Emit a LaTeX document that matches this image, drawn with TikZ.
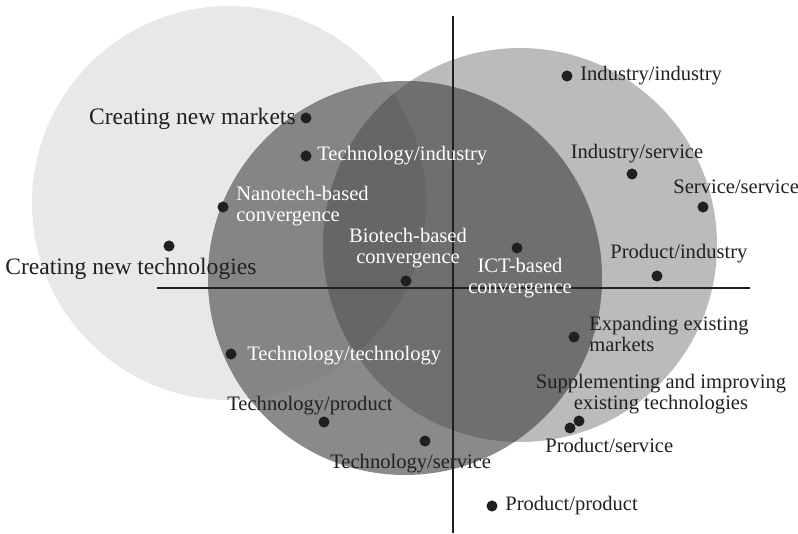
\documentclass[tikz,border=0pt]{standalone}
\usepackage{fontspec}
\setmainfont{Liberation Serif}
\definecolor{ink}{HTML}{231F20}
\definecolor{techfill}{HTML}{E8E8E8}
\definecolor{marketfill}{HTML}{BBBBBB}
\definecolor{convfill}{HTML}{8A8A8A}
\definecolor{convtech}{HTML}{858585}
\definecolor{convmarket}{HTML}{6F6F6F}
\definecolor{convall}{HTML}{666666}
\tikzset{
    spot/.style={circle, fill=ink, inner sep=0pt, minimum size=6.3pt},
    darktxt/.style={inner sep=0pt, text=ink, font=\fontsize{11.7}{11.9}\selectfont},
    lighttxt/.style={darktxt, text=white},
    bigtxt/.style={darktxt, font=\fontsize{13.4}{14}\selectfont}
}
\begin{document}
\begin{tikzpicture}[x=0.02cm, y=-0.02cm]
    \useasboundingbox (0,0) rectangle (798,534);
    % Circles
    \fill[techfill] (229,203) circle[radius=197];
    \fill[marketfill] (520,245) circle[radius=197];
    \fill[convfill] (405,278) circle[radius=197];
    % Overlaps inside the convergence circle
    \begin{scope}
        \clip (405,278) circle[radius=197];
        \fill[convtech] (229,203) circle[radius=197];
        \fill[convmarket] (520,245) circle[radius=197];
        \clip (229,203) circle[radius=197];
        \fill[convall] (520,245) circle[radius=197];
    \end{scope}
    % Axes
    \draw[ink, line width=0.6pt] (453,16) -- (453,533);
    \draw[ink, line width=0.6pt] (157,288) -- (750,288);
    % Points
    \node[spot] (mkt) at (306,118) {};
    \node[spot] (newtech) at (169,246) {};
    \node[spot] (techind) at (306,156) {};
    \node[spot] (nano) at (223,207) {};
    \node[spot] (bio) at (406,281) {};
    \node[spot] (ict) at (517,248) {};
    \node[spot] (indind) at (567,76) {};
    \node[spot] (indsvc) at (632,174) {};
    \node[spot] (svcsvc) at (703,207) {};
    \node[spot] (prodind) at (657,276) {};
    \node[spot] (expand) at (574,337) {};
    \node[spot] (supp) at (579,421) {};
    \node[spot] (prodsvc) at (570,428) {};
    \node[spot] (techsvc) at (425,441) {};
    \node[spot] (prodprod) at (492,506) {};
    \node[spot] (techtech) at (231,354) {};
    \node[spot] (techprod) at (324,422) {};
    % Labels (two-line ones sit on their last baseline)
    \node[bigtxt, anchor=base east] (mkt-l) at (296,124) {Creating new markets};
    \node[bigtxt, anchor=base west] (newtech-l) at (5,274) {Creating new technologies};
    \node[lighttxt, anchor=base west] (techind-l) at (317,160) {Technology/industry};
    \node[lighttxt, anchor=base west, align=left] (nano-l) at (236,221) {Nanotech-based\\convergence};
    \node[lighttxt, anchor=base, align=center] (bio-l) at (408,263) {Biotech-based\\convergence};
    \node[lighttxt, anchor=base, align=center] (ict-l) at (520,293) {ICT-based\\convergence};
    \node[darktxt, anchor=base west] (indind-l) at (580,80) {Industry/industry};
    \node[darktxt, anchor=base] (indsvc-l) at (637,158) {Industry/service};
    \node[darktxt, anchor=base west] (svcsvc-l) at (673,193) {Service/service};
    \node[darktxt, anchor=base west] (prodind-l) at (610,258) {Product/industry};
    \node[darktxt, anchor=base west, align=left] (expand-l) at (589,351) {Expanding existing\\markets};
    \node[darktxt, anchor=base, align=center] (supp-l) at (661,409) {Supplementing and improving\\existing technologies};
    \node[darktxt, anchor=base west] (prodsvc-l) at (545,452) {Product/service};
    \node[darktxt, anchor=base west] (techsvc-l) at (330,468) {Technology/service};
    \node[darktxt, anchor=base west] (prodprod-l) at (505,510) {Product/product};
    \node[lighttxt, anchor=base west] (techtech-l) at (247,360) {Technology/technology};
    \node[darktxt, anchor=base west] (techprod-l) at (227,410) {Technology/product};
\end{tikzpicture}
\end{document}
